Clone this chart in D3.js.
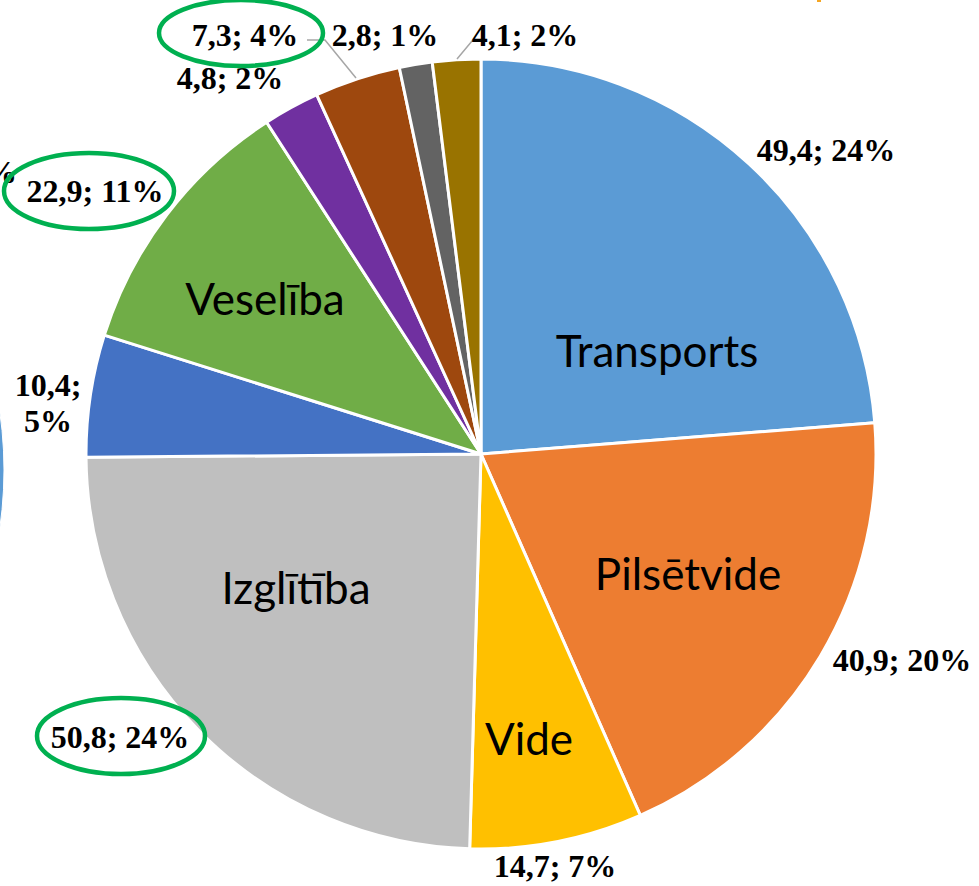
<!DOCTYPE html>
<html>
<head>
<meta charset="utf-8">
<script src="https://cdn.jsdelivr.net/npm/d3@7"></script>
<style>
  html, body { margin: 0; padding: 0; background: #ffffff; }
  svg { display: block; }
</style>
</head>
<body>
<svg id="chart" width="979" height="886"></svg>
<script>
// ---- data ----
const categories = ["Transports", "Pilsētvide", "Vide", "Izglītība", "", "Veselība", "", "", "", ""];
const values = [49.4, 40.9, 14.7, 50.8, 10.4, 22.9, 4.8, 7.3, 2.8, 4.1];
const percents = ["24%", "20%", "7%", "24%", "5%", "11%", "2%", "4%", "1%", "2%"];
const colors = ["#5b9bd5", "#ed7d31", "#ffc000", "#bfbfbf", "#4472c4", "#70ad47", "#7030a0", "#9e480e", "#636363", "#997300"];

// ---- layout ----
const W = 979, H = 886;
const cx = 481, cy = 454, R = 395;
// value label centres (layout)
const valuePos = [[826, 150], [902, 660], [555, 866], [120, 737], [48, 385], [95, 191], [230, 78], [245, 35], [385, 35], [525, 35]];
const namePos = [[657, 350], [688, 573], [529, 738], [296, 587], null, [265, 298], null, null, null, null];

const svg = d3.select("#chart");

// partial neighbouring chart on the left edge
svg.append("circle")
  .attr("cx", -400).attr("cy", 470).attr("r", 404)
  .attr("fill", "#5b9bd5").attr("stroke", "#ffffff").attr("stroke-width", 1);
svg.append("text")
  .attr("x", 17).attr("y", 183)
  .attr("text-anchor", "end")
  .attr("font-family", "'Liberation Serif', 'Times New Roman', serif")
  .attr("font-weight", "bold").attr("font-size", 32)
  .text("%");
svg.append("rect").attr("x", 817).attr("y", 0).attr("width", 4).attr("height", 2).attr("fill", "#f5a623");

const pie = d3.pie().sort(null).value(d => d)(values);
const arc = d3.arc().innerRadius(0).outerRadius(R);

const g = svg.append("g").attr("transform", `translate(${cx},${cy})`);
g.selectAll("path.slice")
  .data(pie)
  .join("path")
  .attr("class", "slice")
  .attr("d", arc)
  .attr("fill", (d, i) => colors[i])
  .attr("stroke", "#ffffff")
  .attr("stroke-width", 3)
  .attr("stroke-linejoin", "round");

// category names
svg.selectAll("text.name")
  .data(categories.map((c, i) => ({ c, p: namePos[i] })).filter(d => d.c && d.p))
  .join("text")
  .attr("class", "name")
  .attr("x", d => d.p[0]).attr("y", d => d.p[1])
  .attr("text-anchor", "middle")
  .attr("dominant-baseline", "central")
  .attr("font-family", "Lato, 'Open Sans', sans-serif")
  .attr("font-size", 44)
  .attr("fill", "#000000")
  .text(d => d.c);

// leader lines
const leaders = [
  [[307, 40], [325, 40], [356, 78]],
  [[484, 41], [472, 41], [457, 59]]
];
svg.selectAll("path.leader")
  .data(leaders)
  .join("path")
  .attr("class", "leader")
  .attr("d", d3.line())
  .attr("fill", "none")
  .attr("stroke", "#a6a6a6")
  .attr("stroke-width", 1.5);

// value labels
const fmt = v => String(v).replace(".", ",");
const vl = svg.selectAll("text.val")
  .data(values.map((v, i) => ({ v, i })))
  .join("text")
  .attr("class", "val")
  .attr("x", d => valuePos[d.i][0]).attr("y", d => valuePos[d.i][1])
  .attr("text-anchor", "middle")
  .attr("dominant-baseline", "central")
  .attr("font-family", "'Liberation Serif', 'Times New Roman', serif")
  .attr("font-weight", "bold")
  .attr("font-size", 32)
  .attr("fill", "#000000");

vl.each(function (d) {
  const t = d3.select(this);
  if (d.i === 4) {
    t.append("tspan").attr("x", valuePos[d.i][0]).attr("dy", 0).text(fmt(d.v) + ";");
    t.append("tspan").attr("x", valuePos[d.i][0]).attr("dy", 36).text(percents[d.i]);
  } else {
    t.text(fmt(d.v) + "; " + percents[d.i]);
  }
});

// green highlight ellipses
const ellipses = [[241, 33, 82, 33], [89, 191, 85, 38], [121, 736, 84, 38]];
svg.selectAll("ellipse.hl")
  .data(ellipses)
  .join("ellipse")
  .attr("class", "hl")
  .attr("cx", d => d[0]).attr("cy", d => d[1])
  .attr("rx", d => d[2]).attr("ry", d => d[3])
  .attr("fill", "none")
  .attr("stroke", "#00b050")
  .attr("stroke-width", 4.5);
</script>
</body>
</html>
